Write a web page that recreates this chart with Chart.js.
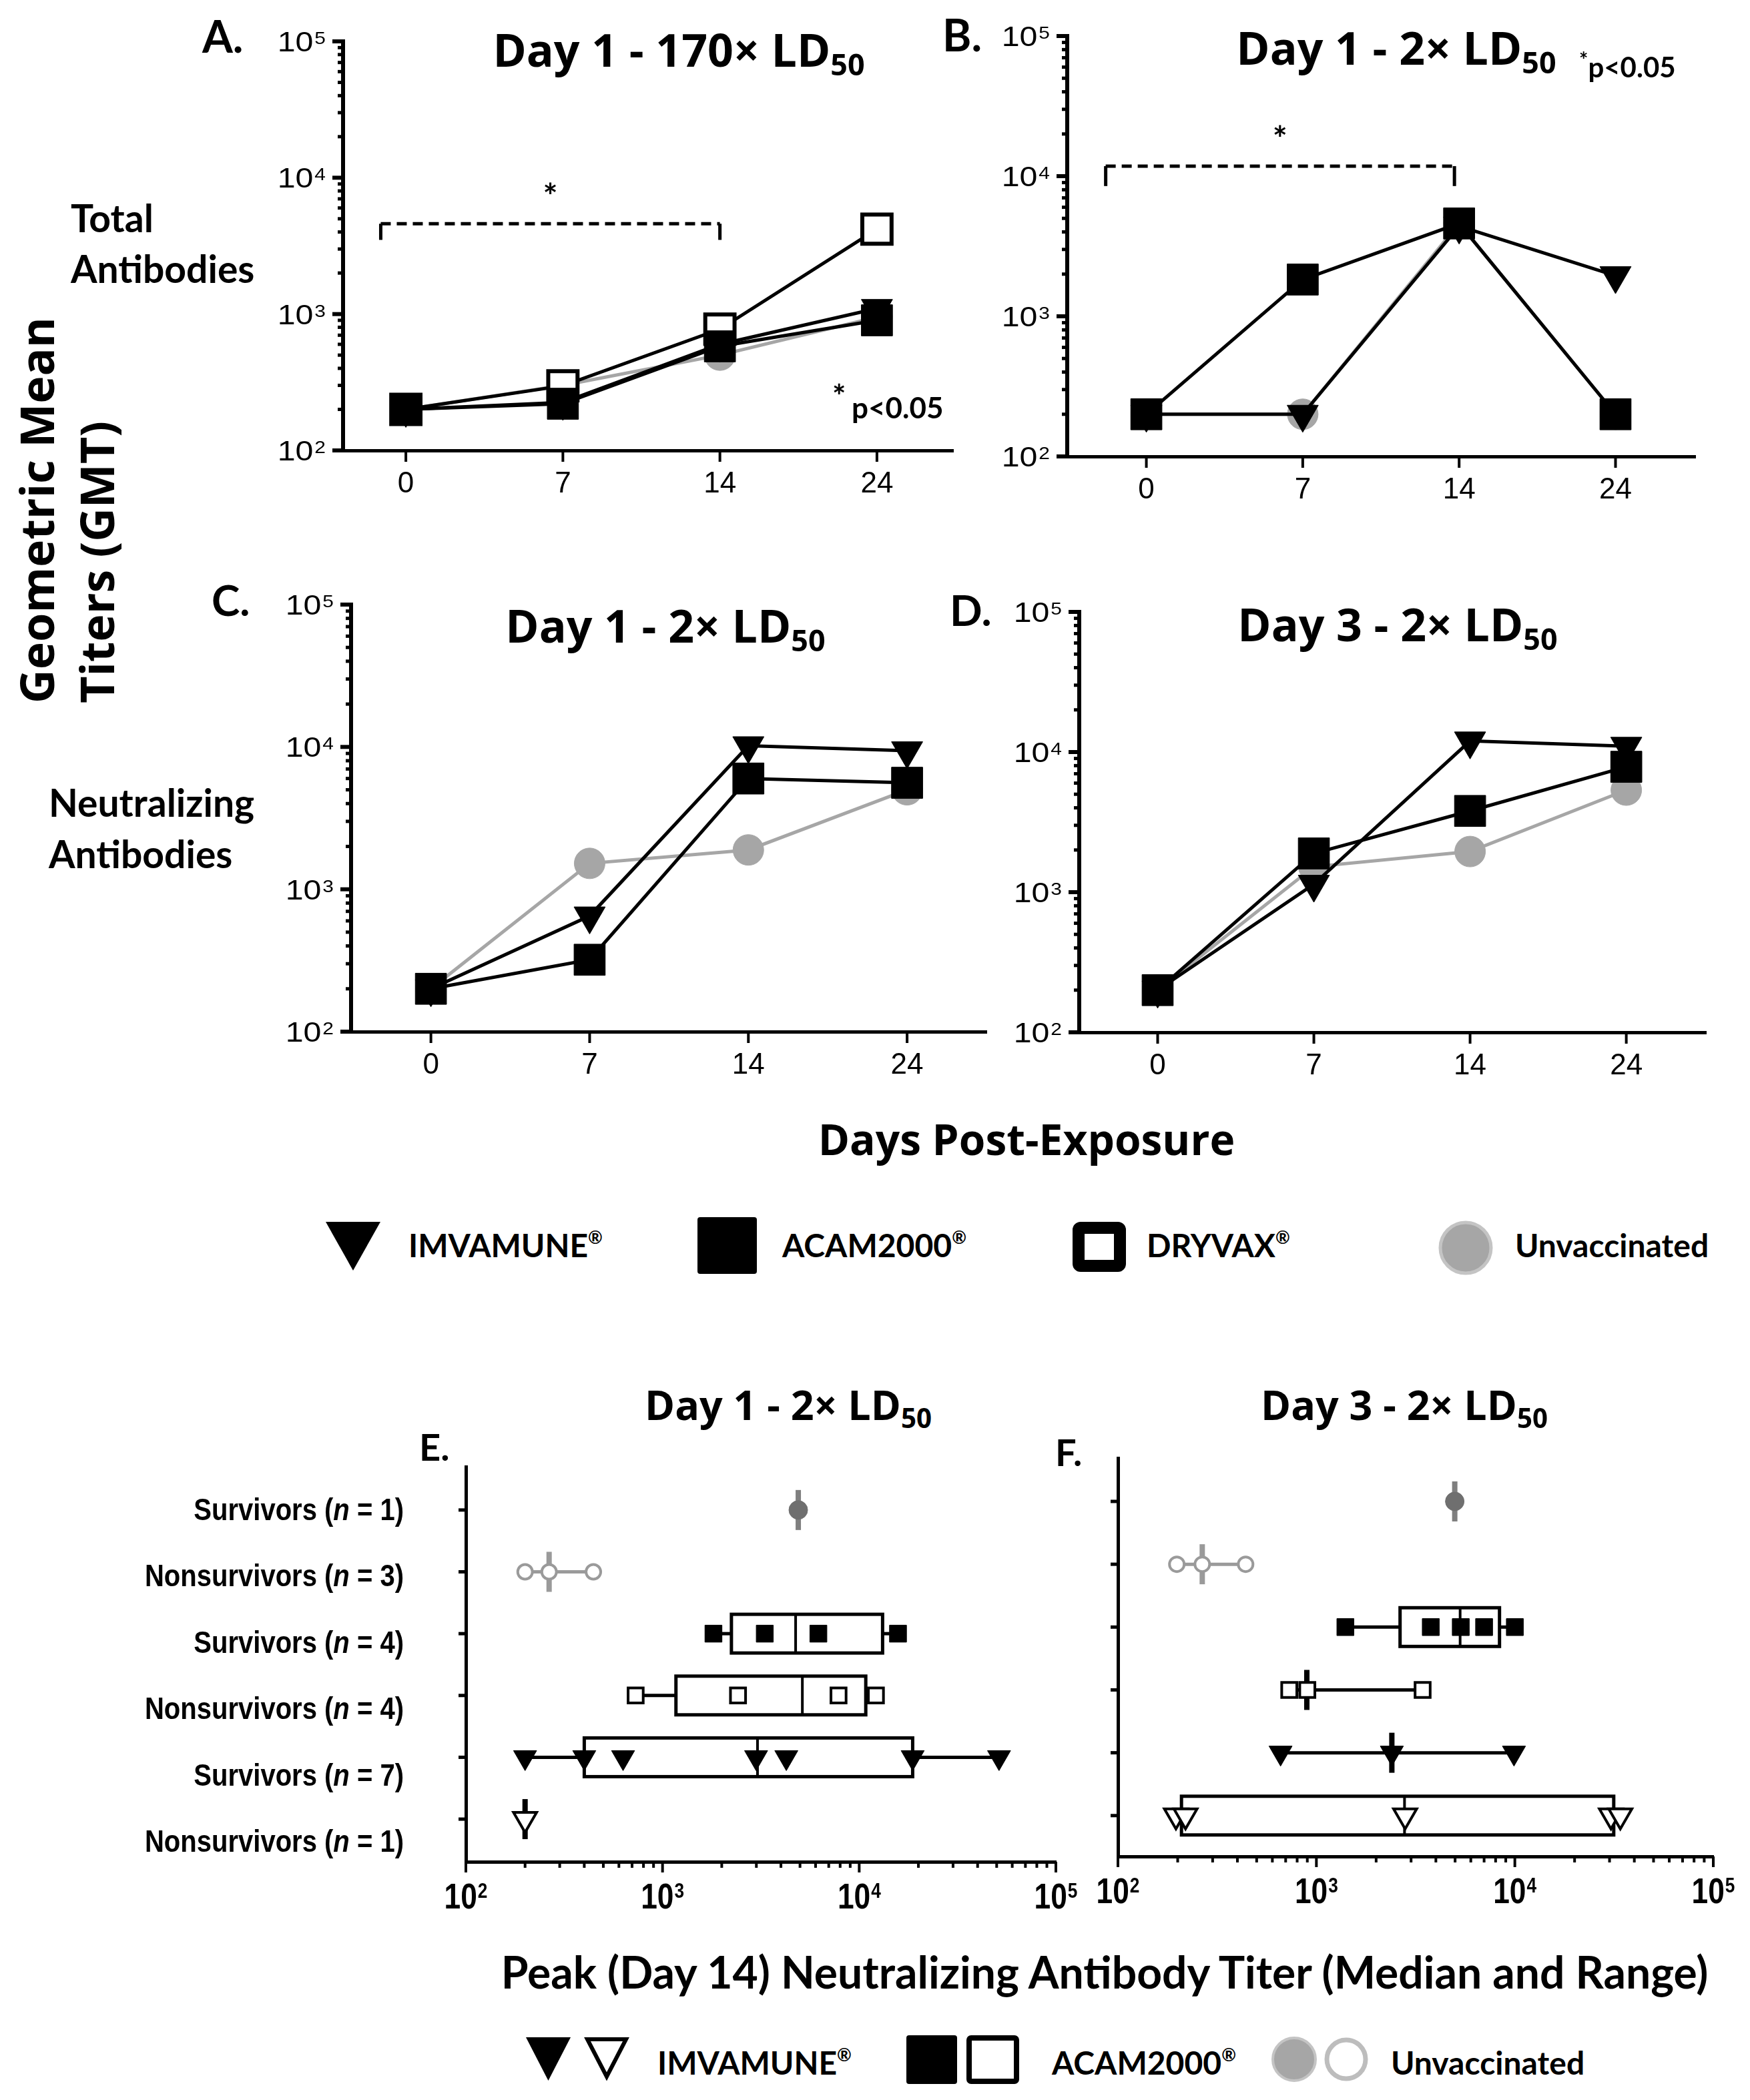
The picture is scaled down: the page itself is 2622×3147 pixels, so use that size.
<!DOCTYPE html>
<html>
<head>
<meta charset="utf-8">
<title>Antibody titers after exposure</title>
<script src="https://cdn.jsdelivr.net/npm/chart.js@4.4.1/dist/chart.umd.min.js"></script>
<style>
  html, body { margin: 0; padding: 0; background: #fff; }
  body { width: 2622px; height: 3147px; position: relative; overflow: hidden; color: #000; }
  canvas { position: absolute; }
  .txt { position: absolute; white-space: nowrap; line-height: 1; font-weight: bold; }
  .txt sub { font-size: 0.66em; vertical-align: -0.3em; line-height: 0; }
  .txt sup { font-size: 0.55em; vertical-align: 0.75em; line-height: 0; }
  .rot { transform-origin: 0 0; transform: rotate(-90deg); }
  svg { position: absolute; left: 0; top: 0; }
</style>
</head>
<body>
<script>
// ====================== DATA ======================
const days = ["0", "7", "14", "24"];

// Total antibodies, Day 1 - 170x LD50 (A)
const totA_imvamune = [200, 225, 600, 1100];
const totA_acam2000 = [200, 220, 580, 900];
const totA_dryvax   = [200, 298, 775, 4200];
const totA_unvacc   = [200, 300, 500, 950];

// Total antibodies, Day 1 - 2x LD50 (B)
const totB_imvamune = [200, 200, 4400, 1950];
const totB_acam2000 = [200, 1830, 4600, 200];
const totB_unvacc   = [200, 200, 4600, 200];

// Neutralizing antibodies, Day 1 - 2x LD50 (C)
const neuC_imvamune = [200, 650, 10200, 9400];
const neuC_acam2000 = [200, 320, 6000, 5600];
const neuC_unvacc   = [200, 1520, 1890, 5000];

// Neutralizing antibodies, Day 3 - 2x LD50 (D)
const neuD_imvamune = [200, 1140, 12000, 11000];
const neuD_acam2000 = [200, 1890, 3800, 7850];
const neuD_unvacc   = [200, 1520, 1950, 5350];

// Peak (day 14) neutralizing titers by outcome (E, F)
const outcomeGroups = ["Survivors (n = 1)", "Nonsurvivors (n = 3)", "Survivors (n = 4)",
                       "Nonsurvivors (n = 4)", "Survivors (n = 7)", "Nonsurvivors (n = 1)"];

const peakE_values = [
  [4900],
  [200, 265, 445],
  [1815, 3310, 6200, 15750],
  [730, 2420, 7850, 12160],
  [200, 400, 630, 2990, 4260, 18700, 51400],
  [200]
];
const peakE_median = [4900, 265, 4750, 5140, 3040, 200];
const peakE_q1     = [null, null, 2240, 1170, 400, null];
const peakE_q3     = [null, null, 13150, 10800, 18700, null];

const peakF_values = [
  [4980],
  [198, 266, 440],
  [1400, 3770, 5340, 7000, 10000],
  [730, 900, 3430],
  [660, 2400, 9900],
  [196, 219, 2800, 30500, 34000]
];
const peakF_median = [4980, 266, 5300, 895, 2400, 2780];
const peakF_q1     = [null, null, 2640, null, null, 209];
const peakF_q3     = [null, null, 8370, null, null, 31500];

// ====================== STYLES ======================
const SERIES_STYLE = {
  imvamune: { pointStyle: "triangle", pointRotation: 180, pointRadius: 27, pointBackgroundColor: "#000", pointBorderColor: "#000", pointBorderWidth: 1, borderColor: "#000" },
  acam2000: { pointStyle: "rect", pointRadius: 33, pointBackgroundColor: "#000", pointBorderColor: "#000", pointBorderWidth: 1, borderColor: "#000" },
  dryvax:   { pointStyle: "rect", pointRadius: 31, pointBackgroundColor: "#fff", pointBorderColor: "#000", pointBorderWidth: 6, borderColor: "#000" },
  unvacc:   { pointStyle: "circle", pointRadius: 23, pointBackgroundColor: "#a6a6a6", pointBorderColor: "#a6a6a6", pointBorderWidth: 1, borderColor: "#a6a6a6" }
};

const ROW_STYLE = [
  { pointStyle: "circle", pointRadius: 14, pointBackgroundColor: "#6f6f6f", pointBorderColor: "#6f6f6f", pointBorderWidth: 1 },
  { pointStyle: "circle", pointRadius: 11, pointBackgroundColor: "#fff", pointBorderColor: "#9a9a9a", pointBorderWidth: 4 },
  { pointStyle: "rect", pointRadius: 18, pointBackgroundColor: "#000", pointBorderColor: "#000", pointBorderWidth: 1 },
  { pointStyle: "rect", pointRadius: 16, pointBackgroundColor: "#fff", pointBorderColor: "#000", pointBorderWidth: 4 },
  { pointStyle: "triangle", pointRotation: 180, pointRadius: 20, pointBackgroundColor: "#000", pointBorderColor: "#000", pointBorderWidth: 1 },
  { pointStyle: "triangle", pointRotation: 180, pointRadius: 20, pointBackgroundColor: "#fff", pointBorderColor: "#000", pointBorderWidth: 4 }
];
const ROW_COLOR = ["#7f7f7f", "#9a9a9a", "#000", "#000", "#000", "#000"];

// ====================== HELPERS ======================
function makeCanvas(area, pad) {
  const c = document.createElement("canvas");
  const w = area.r - area.l + pad.l + pad.r;
  const h = area.b - area.t + pad.t + pad.b;
  c.width = w; c.height = h;
  c.style.left = (area.l - pad.l) + "px";
  c.style.top = (area.t - pad.t) + "px";
  c.style.width = w + "px"; c.style.height = h + "px";
  document.body.appendChild(c);
  return c;
}

function logTickList(min, max) {
  const out = [];
  for (let e = Math.round(Math.log10(min)); e < Math.round(Math.log10(max)); e++) {
    for (let k = 1; k < 10; k++) out.push({ value: k * Math.pow(10, e), major: k === 1 });
  }
  out.push({ value: max, major: true });
  return out;
}

// "10" with a raised exponent
function drawPow(ctx, x, yMid, exp, align, f) {
  ctx.save();
  ctx.textAlign = "left"; ctx.textBaseline = "alphabetic"; ctx.fillStyle = "#000";
  ctx.font = f.base; const w1 = ctx.measureText("10").width * f.sx;
  ctx.font = f.sup;  const w2 = ctx.measureText(String(exp)).width * f.sx;
  const tot = w1 + f.gap + w2;
  const x0 = align === "right" ? x - tot : x - tot / 2;
  ctx.translate(x0, 0); ctx.scale(f.sx, 1);
  ctx.font = f.base; ctx.fillText("10", 0, yMid + f.cap / 2);
  ctx.font = f.sup;  ctx.fillText(String(exp), (w1 + f.gap) / f.sx, yMid - f.cap / 2 + f.supCap);
  ctx.restore();
}

function line(ctx, x1, y1, x2, y2) {
  ctx.beginPath(); ctx.moveTo(x1, y1); ctx.lineTo(x2, y2); ctx.stroke();
}

const LINE_Y_FONT = { base: '42px "Liberation Sans"', sup: '26px "Liberation Sans"', cap: 30, supCap: 19, sx: 1.15, gap: 2 };
const PEAK_X_FONT = { base: 'bold 54px "Liberation Sans"', sup: 'bold 32px "Liberation Sans"', cap: 39, supCap: 23, sx: 0.82, gap: 1 };

// ====================== LINE PANELS (A-D) ======================
const lineAxes = {
  id: "lineAxes",
  afterDraw(chart, args, o) {
    const { ctx, chartArea: a, scales: { x, y } } = chart;
    ctx.save();
    ctx.strokeStyle = "#000"; ctx.fillStyle = "#000";
    y.ticks.forEach(t => {
      const py = y.getPixelForValue(t.value);
      ctx.lineWidth = t.major ? 6 : 5;
      line(ctx, a.left, py, a.left - (t.major ? 16 : 8), py);
      if (t.major) drawPow(ctx, a.left - 26, py, Math.round(Math.log10(t.value)), "right", LINE_Y_FONT);
    });
    ctx.font = '44px "Liberation Sans"'; ctx.textAlign = "center"; ctx.textBaseline = "alphabetic";
    x.ticks.forEach(t => {
      const px = x.getPixelForValue(t.value);
      ctx.lineWidth = 4;
      line(ctx, px, a.bottom, px, a.bottom + 17);
      ctx.fillText(days[t.value], px, a.bottom + 63);
    });
    if (o.bracket) {
      const b = o.bracket;
      const x1 = x.getPixelForValue(b.from), x2 = x.getPixelForValue(b.to);
      const yt = y.getPixelForValue(b.top), yf = y.getPixelForValue(b.foot);
      ctx.lineWidth = 5;
      ctx.setLineDash([15, 9]);
      line(ctx, x1, yt, x2, yt);
      ctx.setLineDash([]);
      line(ctx, x1, yt, x1, yf);
      line(ctx, x2, yt, x2, yf);
      ctx.font = 'bold 52px Lato';
      ctx.textAlign = "center";
      ctx.fillText("*", (x1 + x2) / 2, yt - 22);
    }
    ctx.restore();
  }
};

function series(values, key) {
  return Object.assign({ data: values.map((v, i) => ({ x: i, y: v })), showLine: true, borderWidth: 5, clip: false }, SERIES_STYLE[key]);
}

function linePanel(area, xRange, sets, bracket) {
  const pad = { l: 140, r: 30, t: 40, b: 80 };
  const cv = makeCanvas(area, pad);
  new Chart(cv.getContext("2d"), {
    type: "scatter",
    data: { datasets: sets },
    options: {
      responsive: false, animation: false, devicePixelRatio: 1, events: [],
      layout: { padding: { left: pad.l, right: pad.r, top: pad.t, bottom: pad.b } },
      plugins: { legend: { display: false }, tooltip: { enabled: false }, lineAxes: { bracket } },
      scales: {
        x: {
          type: "linear", min: xRange[0], max: xRange[1],
          afterFit: s => { s.height = 0; },
          afterBuildTicks: s => { s.ticks = days.map((d, i) => ({ value: i })); },
          ticks: { display: false }, grid: { display: false },
          border: { display: true, width: 5, color: "#000" }
        },
        y: {
          type: "logarithmic", min: 100, max: 100000,
          afterFit: s => { s.width = 0; },
          afterBuildTicks: s => { s.ticks = logTickList(100, 100000); },
          ticks: { display: false }, grid: { display: false },
          border: { display: true, width: 6, color: "#000" }
        }
      }
    },
    plugins: [lineAxes]
  });
}

linePanel({ l: 514, t: 62, r: 1435, b: 675 }, [-0.40, 3.485], [
  series(totA_imvamune, "imvamune"), series(totA_acam2000, "acam2000"),
  series(totA_dryvax, "dryvax"), series(totA_unvacc, "unvacc")
], { from: -0.16, to: 2, top: 4600, foot: 3500 });

linePanel({ l: 1599, t: 54, r: 2544, b: 684 }, [-0.506, 3.51], [
  series(totB_imvamune, "imvamune"), series(totB_acam2000, "acam2000"), series(totB_unvacc, "unvacc")
], { from: -0.26, to: 1.97, top: 11800, foot: 8500 });

linePanel({ l: 526, t: 906, r: 1482, b: 1546 }, [-0.503, 3.50], [
  series(neuC_imvamune, "imvamune"), series(neuC_acam2000, "acam2000"), series(neuC_unvacc, "unvacc")
], null);

linePanel({ l: 1617, t: 917, r: 2560, b: 1547 }, [-0.502, 3.51], [
  series(neuD_imvamune, "imvamune"), series(neuD_acam2000, "acam2000"), series(neuD_unvacc, "unvacc")
], null);

// ====================== PEAK PANELS (E, F) ======================
function drawGroupLabel(ctx, label, xRight, yMid) {
  const m = label.match(/^(.*\()n(.*)$/);
  const parts = m ? [[m[1], "bold"], ["n", "italic bold"], [m[2], "bold"]] : [[label, "bold"]];
  const sx = 0.87, size = 46;
  ctx.save();
  ctx.fillStyle = "#000"; ctx.textAlign = "left"; ctx.textBaseline = "alphabetic";
  const widths = parts.map(p => { ctx.font = `${p[1]} ${size}px "Liberation Sans"`; return ctx.measureText(p[0]).width; });
  const tot = widths.reduce((s, w) => s + w, 0) * sx;
  ctx.translate(xRight - tot, yMid + 16); ctx.scale(sx, 1);
  let cx = 0;
  parts.forEach((p, k) => { ctx.font = `${p[1]} ${size}px "Liberation Sans"`; ctx.fillText(p[0], cx, 0); cx += widths[k]; });
  ctx.restore();
}

const peakPlugin = {
  id: "peak",
  beforeDatasetsDraw(chart, args, o) {
    const { ctx, scales: { x, y } } = chart;
    ctx.save();
    o.values.forEach((vals, i) => {
      const py = y.getPixelForValue(i);
      const lo = x.getPixelForValue(Math.min(...vals));
      const hi = x.getPixelForValue(Math.max(...vals));
      const xm = x.getPixelForValue(o.median[i]);
      ctx.strokeStyle = ROW_COLOR[i];
      if (o.q1[i] != null) {
        const x1 = x.getPixelForValue(o.q1[i]), x3 = x.getPixelForValue(o.q3[i]);
        ctx.lineWidth = 5;
        line(ctx, lo, py, x1, py);
        line(ctx, x3, py, hi, py);
        ctx.fillStyle = "#fff";
        ctx.fillRect(x1, py - 29, x3 - x1, 58);
        ctx.strokeRect(x1, py - 29, x3 - x1, 58);
        ctx.lineWidth = 4;
        line(ctx, xm, py - 29, xm, py + 29);
      } else {
        ctx.lineWidth = 5;
        if (hi > lo) line(ctx, lo, py, hi, py);
        ctx.lineWidth = 8;
        line(ctx, xm, py - 30, xm, py + 30);
      }
    });
    ctx.restore();
  },
  afterDraw(chart, args, o) {
    const { ctx, chartArea: a, scales: { x, y } } = chart;
    ctx.save();
    ctx.strokeStyle = "#000";
    ctx.lineWidth = 5;
    outcomeGroups.forEach((g, i) => {
      const py = y.getPixelForValue(i);
      line(ctx, a.left, py, a.left - 11, py);
    });
    x.ticks.forEach(t => {
      const px = x.getPixelForValue(t.value);
      ctx.lineWidth = 4;
      line(ctx, px, a.bottom, px, a.bottom + (t.major ? 16 : 9));
      if (t.major) drawPow(ctx, px, a.bottom + 50, Math.round(Math.log10(t.value)), "center", PEAK_X_FONT);
    });
    if (o.labels) {
      const yl = chart.scales.yl;
      outcomeGroups.forEach((g, i) => drawGroupLabel(ctx, g, a.left - 93, yl.getPixelForValue(i)));
    }
    ctx.restore();
  }
};

function peakPanel(area, pad, yRange, labelRange, values, median, q1, q3) {
  const cv = makeCanvas(area, pad);
  const sets = values.map((vals, i) => Object.assign({
    data: vals.map(v => ({ x: v, y: i })), clip: false
  }, ROW_STYLE[i]));
  const scales = {
    x: {
      type: "logarithmic", min: 100, max: 100000,
      afterFit: s => { s.height = 0; },
      afterBuildTicks: s => { s.ticks = logTickList(100, 100000); },
      ticks: { display: false }, grid: { display: false },
      border: { display: true, width: 5, color: "#000" }
    },
    y: {
      type: "linear", reverse: true, min: yRange[0], max: yRange[1],
      afterFit: s => { s.width = 0; },
      ticks: { display: false }, grid: { display: false },
      border: { display: true, width: 5, color: "#000" }
    }
  };
  if (labelRange) {
    scales.yl = { type: "linear", position: "left", reverse: true, min: labelRange[0], max: labelRange[1], display: false };
  }
  new Chart(cv.getContext("2d"), {
    type: "scatter",
    data: { datasets: sets },
    options: {
      responsive: false, animation: false, devicePixelRatio: 1, events: [],
      layout: { padding: { left: pad.l, right: pad.r, top: pad.t, bottom: pad.b } },
      plugins: { legend: { display: false }, tooltip: { enabled: false },
                 peak: { values, median, q1, q3, labels: !!labelRange } },
      scales
    },
    plugins: [peakPlugin]
  });
}

peakPanel({ l: 698, t: 2198, r: 1582, b: 2790 }, { l: 500, r: 40, t: 40, b: 90 },
          [-0.70, 5.69], [-0.644, 5.31], peakE_values, peakE_median, peakE_q1, peakE_q3);
peakPanel({ l: 1675, t: 2185, r: 2567, b: 2782 }, { l: 60, r: 50, t: 40, b: 90 },
          [-0.69, 5.65], null, peakF_values, peakF_median, peakF_q1, peakF_q3);

// ====================== TEXT ======================
function addText(html, x, baseline, size, family, center, rotate) {
  const d = document.createElement("div");
  d.className = "txt" + (rotate ? " rot" : "");
  d.innerHTML = html;
  d.style.fontFamily = family;
  d.style.fontSize = size + "px";
  d.style.left = x + "px";
  d.style.top = (baseline - 0.887 * size) + "px";
  if (center) d.style.transform = "translateX(-50%)";
  document.body.appendChild(d);
  return d;
}

// panel letters
addText("A.", 303, 80, 66, "Lato");
addText("B.", 1412, 78, 66, "Lato");
addText("C.", 317, 924, 64, "Lato");
addText("D.", 1423, 939, 64, "Lato");
addText("E.", 628, 2190, 56, "Lato");
addText("F.", 1581, 2198, 56, "Lato");

// titles
addText("Day 1 - 170× LD<sub>50</sub>", 1017, 100, 68, "'Open Sans'", true);
addText("Day 1 - 2× LD<sub>50</sub>", 2092, 97, 68, "'Open Sans'", true);
addText("Day 1 - 2× LD<sub>50</sub>", 997, 963, 68, "'Open Sans'", true);
addText("Day 3 - 2× LD<sub>50</sub>", 2094, 961, 68, "'Open Sans'", true);
addText("Day 1 - 2× LD<sub>50</sub>", 1181, 2128, 61, "'Open Sans'", true);
addText("Day 3 - 2× LD<sub>50</sub>", 2104, 2128, 61, "'Open Sans'", true);

// significance notes
addText("*", 1247, 612, 48, "Lato");
addText("p&lt;0.05", 1276, 627, 44, "Lato");
addText("<span style='font-size:0.75em;vertical-align:0.45em;line-height:0'>*</span>p&lt;0.05", 2366, 116, 42, "Lato");

// row labels
addText("Total", 106, 349, 57, "Lato");
addText("Antibodies", 106, 425, 57, "Lato");
addText("Neutralizing", 73, 1225, 57, "Lato");
addText("Antibodies", 73, 1302, 57, "Lato");

// rotated y title (top of letters at the given x)
(function () {
  const l1 = addText("Geometric Mean", 0, 0, 70, "'Open Sans'", false, true);
  l1.style.left = (31 - 0.174 * 70) + "px"; l1.style.top = "1054px";
  const l2 = addText("Titers (GMT)", 0, 0, 70, "'Open Sans'", false, true);
  l2.style.left = (121 - 0.174 * 70) + "px"; l2.style.top = "1054px";
})();

addText("Days Post-Exposure", 1538, 1732, 64, "'Open Sans'", true);
addText("Peak (Day 14) Neutralizing Antibody Titer (Median and Range)", 1655, 2981, 66, "Lato", true);

// legends
addText("IMVAMUNE<sup>®</sup>", 612, 1885, 48, "Lato");
addText("ACAM2000<sup>®</sup>", 1172, 1885, 48, "Lato");
addText("DRYVAX<sup>®</sup>", 1718, 1885, 48, "Lato");
addText("Unvaccinated", 2270, 1885, 48, "Lato");

addText("IMVAMUNE<sup>®</sup>", 985, 3110, 48, "Lato");
addText("ACAM2000<sup>®</sup>", 1576, 3110, 48, "Lato");
addText("Unvaccinated", 2084, 3110, 48, "Lato");

// legend symbols
document.body.insertAdjacentHTML("beforeend", `
<svg width="2622" height="3147" viewBox="0 0 2622 3147">
  <polygon points="488,1831 570,1831 529,1904" fill="#000"/>
  <rect x="1045" y="1824" width="89" height="85" rx="4" fill="#000"/>
  <rect x="1616" y="1840" width="62" height="57" rx="3" fill="#fff" stroke="#000" stroke-width="18"/>
  <circle cx="2196" cy="1870" r="38" fill="#a6a6a6" stroke="#c4c4c4" stroke-width="5"/>

  <polygon points="788,3053 855,3053 821.5,3118" fill="#000"/>
  <polygon points="880,3056 938,3056 909,3112" fill="#fff" stroke="#000" stroke-width="6" stroke-linejoin="miter"/>
  <rect x="1358" y="3050" width="76" height="73" rx="4" fill="#000"/>
  <rect x="1452" y="3054" width="71" height="65" rx="3" fill="#fff" stroke="#000" stroke-width="8"/>
  <circle cx="1939" cy="3086" r="32" fill="#a6a6a6" stroke="#c4c4c4" stroke-width="4"/>
  <circle cx="2017" cy="3086" r="29" fill="#fff" stroke="#bdbdbd" stroke-width="7"/>
</svg>`);
</script>
</body>
</html>
